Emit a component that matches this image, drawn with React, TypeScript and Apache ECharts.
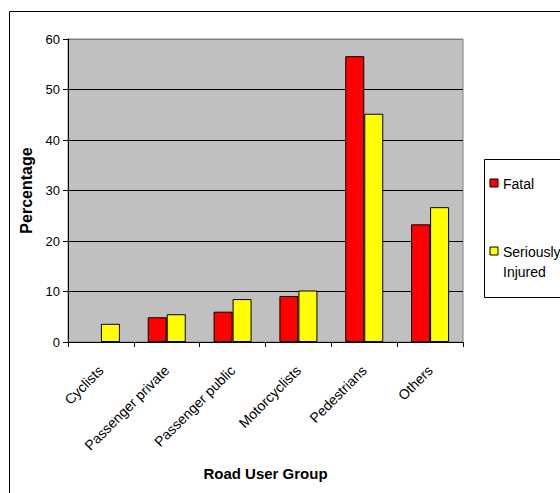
import React, { useEffect, useRef } from "react";
import * as echarts from "echarts";

// Road user groups and the share of casualties in each (percent)
const categories = [
  "Cyclists",
  "Passenger private",
  "Passenger public",
  "Motorcyclists",
  "Pedestrians",
  "Others",
];
const fatal = [0, 4.9, 6.0, 9.1, 56.6, 23.3];
const seriouslyInjured = [3.6, 5.5, 8.5, 10.2, 45.2, 26.7];
const seriesNames = ["Fatal", "Seriously Injured"];
const seriesColors = ["#ff0000", "#ffff00"];
const yTicks = { min: 0, max: 60, interval: 10 };

const FONT = "'Liberation Sans', Arial, Helvetica, sans-serif";

export default function App() {
  const ref = useRef<HTMLDivElement>(null);

  useEffect(() => {
    if (!ref.current) return;
    const chart = echarts.init(ref.current, null, { renderer: "svg" });

    const legendItems = seriesNames.map((name, i) => {
      const y = i === 0 ? 179 : 247;
      return [
        {
          type: "rect",
          shape: { x: 490, y, width: 8, height: 8 },
          style: { fill: seriesColors[i], stroke: "#000", lineWidth: 1 },
          z: 10,
        },
        {
          type: "text",
          x: 503,
          y: y - 5,
          style: {
            text: name.split(" ").join("\n"),
            font: `14px ${FONT}`,
            fill: "#000",
            lineHeight: 20,
            textVerticalAlign: "top",
          },
          z: 10,
        },
      ];
    }).flat();

    // a zero value leaves its slot empty rather than drawing a flat outline
    const toBarData = (values: number[]) =>
      values.map((v) =>
        v === 0 ? { value: v, itemStyle: { opacity: 0 } } : v
      );

    chart.setOption({
      animation: false,
      textStyle: { fontFamily: FONT, color: "#000" },
      grid: {
        left: 68,
        top: 39,
        width: 395,
        height: 303,
        show: true,
        backgroundColor: "#c0c0c0",
        borderColor: "#808080",
        borderWidth: 1,
        containLabel: false,
      },
      xAxis: {
        type: "category",
        data: categories,
        name: "Road User Group",
        nameLocation: "middle",
        nameGap: 124,
        nameTextStyle: { fontSize: 15, fontWeight: "bold", color: "#000" },
        axisLine: { show: true, lineStyle: { color: "#000", width: 1 } },
        axisTick: { show: true, length: 5, interval: 0, lineStyle: { color: "#000" } },
        axisLabel: {
          rotate: 45,
          interval: 0,
          margin: 26,
          fontSize: 14,
          color: "#000",
        },
      },
      yAxis: {
        type: "value",
        min: yTicks.min,
        max: yTicks.max,
        interval: yTicks.interval,
        name: "Percentage",
        nameLocation: "middle",
        nameGap: 31,
        nameTextStyle: { fontSize: 16, fontWeight: "bold", color: "#000" },
        axisLine: { show: true, lineStyle: { color: "#000", width: 1 } },
        axisTick: { show: true, length: 5, lineStyle: { color: "#000" } },
        axisLabel: { fontSize: 13, margin: 8, color: "#000" },
        splitLine: {
          show: true,
          lineStyle: {
            color: ["#000", "#000", "#000", "#000", "#000", "#000", "#808080"],
            width: 1,
          },
        },
      },
      series: [fatal, seriouslyInjured].map((data, i) => ({
        type: "bar",
        name: seriesNames[i],
        data: toBarData(data),
        barWidth: 19,
        barGap: "0%",
        itemStyle: {
          color: seriesColors[i],
          borderColor: "#000",
          borderWidth: 1,
        },
      })),
      graphic: [
        {
          type: "rect",
          shape: { x: 9.5, y: 11.5, width: 700, height: 700 },
          style: { fill: "none", stroke: "#000", lineWidth: 1 },
          silent: true,
          z: -1,
        },
        {
          type: "rect",
          shape: { x: 484.5, y: 159.5, width: 120, height: 138 },
          style: { fill: "#fff", stroke: "#000", lineWidth: 1 },
          z: 9,
        },
        ...legendItems,
      ],
    });

    return () => chart.dispose();
  }, []);

  return (
    <div
      ref={ref}
      style={{ position: "fixed", left: 0, top: 0, width: 560, height: 493, background: "#fff" }}
    />
  );
}
